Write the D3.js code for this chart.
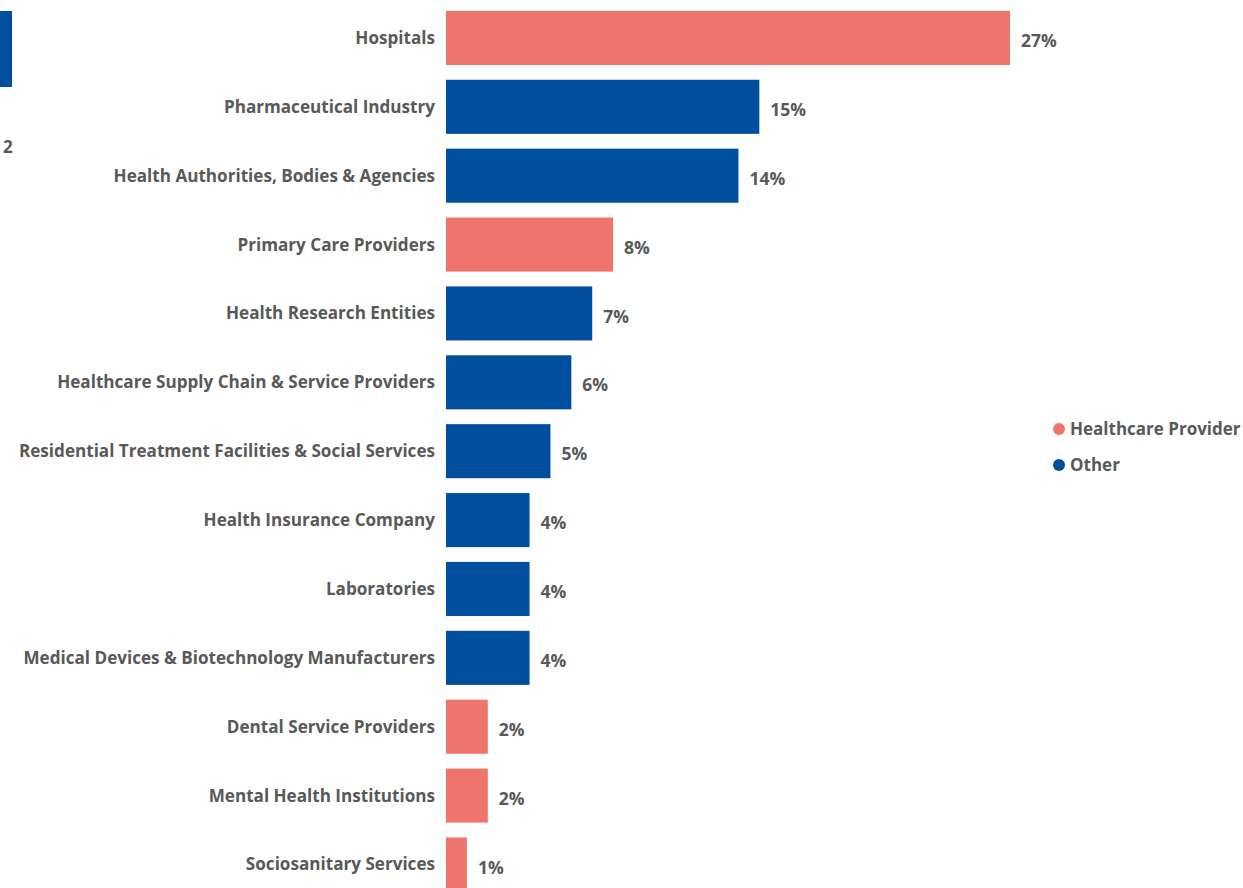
<!DOCTYPE html>
<html>
<head>
<meta charset="utf-8">
<script src="https://cdn.jsdelivr.net/npm/d3@7/dist/d3.min.js"></script>
<style>
  html, body { margin: 0; padding: 0; background: #ffffff; }
  svg { display: block; }
  text { font-family: "Open Sans", "Segoe UI", sans-serif; font-weight: 700; fill: #595959; }
</style>
</head>
<body>
<svg id="chart" width="1243" height="888"></svg>
<script>
// Share of organisations by type
const categories = [
  "Hospitals",
  "Pharmaceutical Industry",
  "Health Authorities, Bodies & Agencies",
  "Primary Care Providers",
  "Health Research Entities",
  "Healthcare Supply Chain & Service Providers",
  "Residential Treatment Facilities & Social Services",
  "Health Insurance Company",
  "Laboratories",
  "Medical Devices & Biotechnology Manufacturers",
  "Dental Service Providers",
  "Mental Health Institutions",
  "Sociosanitary Services"
];
const shares = [27, 15, 14, 8, 7, 6, 5, 4, 4, 4, 2, 2, 1];
const groups = [
  "Healthcare Provider", "Other", "Other", "Healthcare Provider", "Other", "Other",
  "Other", "Other", "Other", "Other", "Healthcare Provider", "Healthcare Provider",
  "Healthcare Provider"
];
const legendItems = ["Healthcare Provider", "Other"];
const legendColors = ["#EE746C", "#004F9F"];

const rows = categories.map((c, i) => ({ name: c, value: shares[i], group: groups[i] }));

const svg = d3.select("#chart");

const color = d3.scaleOrdinal().domain(legendItems).range(legendColors);

const x = d3.scaleLinear().domain([0, 27]).range([446, 1010]);
const y = d3.scaleBand()
  .domain(categories)
  .range([4, 4 + 68.8 * categories.length])
  .paddingInner(0.215)
  .paddingOuter(0.1);

// Edge of a neighbouring visual, clipped by the frame
svg.append("rect")
  .attr("x", -20).attr("y", 11).attr("width", 32).attr("height", 76)
  .attr("fill", legendColors[1]);
svg.append("text")
  .attr("x", 3).attr("y", 153)
  .style("font-size", "17px")
  .text("2");

// Category labels
svg.append("g")
  .selectAll("text")
  .data(rows)
  .join("text")
  .attr("x", 435)
  .attr("y", d => y(d.name) + y.bandwidth() / 2)
  .attr("dy", "0.35em")
  .attr("text-anchor", "end")
  .style("font-size", "17.1px")
  .text(d => d.name);

// Bars
svg.append("g")
  .selectAll("rect")
  .data(rows)
  .join("rect")
  .attr("x", x(0))
  .attr("y", d => y(d.name))
  .attr("width", d => x(d.value) - x(0))
  .attr("height", y.bandwidth())
  .attr("fill", d => color(d.group));

// Value labels
svg.append("g")
  .selectAll("text")
  .data(rows)
  .join("text")
  .attr("x", d => x(d.value) + 11)
  .attr("y", d => y(d.name) + y.bandwidth() / 2 + 3)
  .attr("dy", "0.35em")
  .style("font-size", "17.5px")
  .text(d => d3.format(".0%")(d.value / 100));

// Legend
const legend = svg.append("g")
  .selectAll("g")
  .data(legendItems)
  .join("g")
  .attr("transform", (d, i) => `translate(1059, ${429 + i * 36})`);
legend.append("circle")
  .attr("r", 6)
  .attr("fill", d => color(d));
legend.append("text")
  .attr("x", 11)
  .attr("dy", "0.35em")
  .style("font-size", "17px")
  .text(d => d);
</script>
</body>
</html>
